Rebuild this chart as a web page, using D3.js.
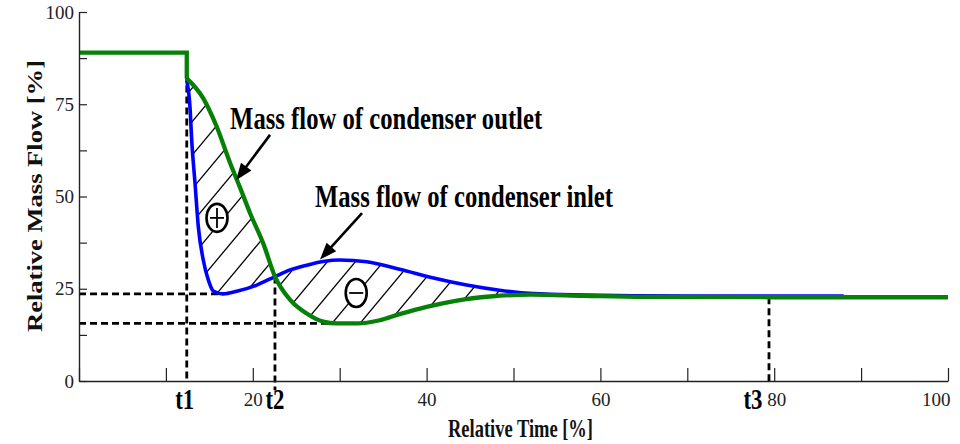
<!DOCTYPE html>
<html>
<head>
<meta charset="utf-8">
<script src="https://cdn.jsdelivr.net/npm/d3@7"></script>
<style>
  html, body { margin: 0; padding: 0; background: #ffffff; }
  svg { display: block; }
</style>
</head>
<body>
<script>
// ---------------- DATA ----------------
// Green: mass flow of condenser outlet (step part + smooth part)
const greenStepT = [0, 12.4, 12.4];
const greenStepV = [89, 89, 82];
const greenT = [12.4, 14.3, 15.85, 17.4, 18.5, 19.7, 21.2, 22.55, 24.3, 26.2, 28.1, 29.65, 32, 34.5, 37, 40, 43.5, 47.3, 52, 58, 65, 80, 100];
const greenV = [82, 76.6, 68.9, 59, 52.6, 45.4, 37.3, 28.3, 22, 18.3, 16.1, 15.6, 15.6, 16.4, 18.2, 20.1, 21.8, 22.9, 23.4, 23.1, 22.8, 22.7, 22.7];
// Blue: mass flow of condenser inlet
const blueT = [12.4, 12.77, 12.97, 13.35, 13.73, 14.3, 14.88, 15.45, 16.6, 18.15, 20.45, 22.55, 24.3, 26.2, 28.1, 30, 33.1, 36.9, 40.8, 44.6, 48.4, 52.3, 58, 70, 88];
const blueV = [81.5, 74.3, 65.3, 53.6, 41.8, 32.8, 27.4, 24.4, 23.6, 24.3, 26, 28.3, 30.1, 31.4, 32.4, 32.8, 32.3, 30.3, 27.9, 26, 24.6, 23.7, 23.3, 23.0, 23.0];

// marker times / levels
const markerNames = ["t1", "t2", "t3"];
const markerT = [12.4, 22.55, 79.4];
const markerTopV = [89, 28.3, 22.7];
const levelV = [23.6, 15.6];      // blue minimum, green minimum
const levelEndT = [16.6, 30];

// axis ticks
const xTicks = [0, 10, 20, 30, 40, 50, 60, 70, 80, 90, 100];
const xTickLabels = [20, 40, 60, 80, 100];
const yTicks = [0, 12.5, 25, 37.5, 50, 62.5, 75, 87.5, 100];
const yTickLabels = [0, 25, 50, 75, 100];

const labelOutlet = "Mass flow of condenser outlet";
const labelInlet = "Mass flow of condenser inlet";
const xTitle = "Relative Time [%]";
const yTitle = "Relative Mass Flow [%]";

// ---------------- CHART ----------------
const W = 960, H = 444;
const x = d3.scaleLinear().domain([0, 100]).range([79, 948]);
const y = d3.scaleLinear().domain([0, 100]).range([381, 12]);

const serif = "'Liberation Serif', 'Times New Roman', serif";
const GREEN = "#078007";
const BLUE = "#0000ff";

const svg = d3.select("body").append("svg")
  .attr("width", W).attr("height", H)
  .attr("viewBox", `0 0 ${W} ${H}`);

const defs = svg.append("defs");

const pts = (T, V) => T.map((t, i) => [t, V[i]]);
const greenPts = pts(greenT, greenV);
const bluePts = pts(blueT, blueV);
const greenStepPts = pts(greenStepT, greenStepV);

const lineGen = d3.line().x(d => x(d[0])).y(d => y(d[1])).curve(d3.curveMonotoneX);
const linearGen = d3.line().x(d => x(d[0])).y(d => y(d[1]));
const areaGen = d3.area().x(d => x(d[0])).y0(y(0)).y1(d => y(d[1])).curve(d3.curveMonotoneX);

// ---- hatched region between the curves (XOR of the two areas) ----
const hatchEnd = 58;
const clipD = areaGen(bluePts.filter(d => d[0] <= hatchEnd)) + areaGen(greenPts.filter(d => d[0] <= hatchEnd));
defs.append("clipPath").attr("id", "betweenClip")
  .append("path").attr("d", clipD).attr("clip-rule", "evenodd");

const hatchG = svg.append("g").attr("clip-path", "url(#betweenClip)");
const slope = 1.2, spacing = 28, phase = 312;
const hatchStarts = d3.range(-16, 9).map(k => phase + k * spacing);
hatchG.selectAll("line").data(hatchStarts).join("line")
  .attr("x1", d => d).attr("y1", y(0))
  .attr("x2", d => d + (y(0) - y(100)) / slope).attr("y2", y(100))
  .attr("stroke", "#000").attr("stroke-width", 1.3);

// ---- dashed guide lines ----
const dash = "7,4";
const guides = svg.append("g").attr("stroke", "#000").attr("stroke-width", 2.8)
  .attr("stroke-dasharray", dash).attr("fill", "none");
levelV.forEach((v, i) => {
  guides.append("line").attr("x1", x(0)).attr("x2", x(levelEndT[i]))
    .attr("y1", y(v)).attr("y2", y(v));
});
const markerBottomV = [0, -2.5, -1];
markerT.forEach((t, i) => {
  guides.append("line").attr("x1", x(t)).attr("x2", x(t))
    .attr("y1", y(markerTopV[i])).attr("y2", y(markerBottomV[i]));
});

// ---- curves ----
svg.append("path").attr("d", lineGen(bluePts))
  .attr("fill", "none").attr("stroke", BLUE).attr("stroke-width", 3.6);
svg.append("path").attr("d", linearGen(greenStepPts))
  .attr("fill", "none").attr("stroke", GREEN).attr("stroke-width", 4.3);
svg.append("path").attr("d", lineGen(greenPts))
  .attr("fill", "none").attr("stroke", GREEN).attr("stroke-width", 4.3);

// ---- plus / minus symbols ----
const signs = [
  { t: 15.88, v: 44.2, plus: true },
  { t: 31.9, v: 23.85, plus: false }
];
signs.forEach(s => {
  const cx = x(s.t), cy = y(s.v);
  svg.append("ellipse").attr("cx", cx).attr("cy", cy).attr("rx", 10.5).attr("ry", 14)
    .attr("fill", "#fff").attr("stroke", "#000").attr("stroke-width", 2.6);
  svg.append("line").attr("x1", cx - 7).attr("x2", cx + 7).attr("y1", cy).attr("y2", cy)
    .attr("stroke", "#000").attr("stroke-width", 1.8);
  if (s.plus) {
    svg.append("line").attr("x1", cx).attr("x2", cx).attr("y1", cy - 10).attr("y2", cy + 10)
      .attr("stroke", "#000").attr("stroke-width", 1.8);
  }
});

// ---- arrows ----
const arrows = [
  { t0: 21.98, v0: 66.7, t1: 18.07, v1: 54.4 },
  { t0: 32.57, v0: 45.5, t1: 27.73, v1: 32.9 }
];
arrows.forEach(a => {
  const x0 = x(a.t0), y0 = y(a.v0), x1 = x(a.t1), y1 = y(a.v1);
  const len = Math.hypot(x1 - x0, y1 - y0);
  const ux = (x1 - x0) / len, uy = (y1 - y0) / len;
  const hl = 17, hw = 6.5;
  const bx = x1 - ux * hl, by = y1 - uy * hl;
  svg.append("line").attr("x1", x0).attr("y1", y0).attr("x2", bx + ux * 2).attr("y2", by + uy * 2)
    .attr("stroke", "#000").attr("stroke-width", 2.6);
  svg.append("path")
    .attr("d", `M${x1},${y1}L${bx - uy * hw},${by + ux * hw}L${bx + uy * hw},${by - ux * hw}Z`)
    .attr("fill", "#000");
});

// ---- annotation texts ----
svg.append("text").attr("x", x(17.39)).attr("y", y(68.3))
  .attr("font-family", serif).attr("font-weight", "bold").attr("font-size", 32)
  .attr("textLength", 312).attr("lengthAdjust", "spacingAndGlyphs")
  .attr("fill", "#000").text(labelOutlet);
svg.append("text").attr("x", x(27.16)).attr("y", y(47.15))
  .attr("font-family", serif).attr("font-weight", "bold").attr("font-size", 31)
  .attr("textLength", 298).attr("lengthAdjust", "spacingAndGlyphs")
  .attr("fill", "#000").text(labelInlet);

// ---- axes ----
const yAxis = d3.axisLeft(y).tickValues(yTicks).tickSize(-8).tickSizeOuter(0).tickPadding(5)
  .tickFormat(d => yTickLabels.includes(d) ? d : "");
const yg = svg.append("g").attr("transform", `translate(${x(0)},0)`).call(yAxis);
yg.selectAll("text").attr("font-family", serif).attr("font-size", 19).attr("fill", "#222");

const xAxis = d3.axisBottom(x).tickValues(xTicks).tickSize(-13).tickSizeOuter(0).tickPadding(12)
  .tickFormat(d => xTickLabels.includes(d) ? d : "");
const xg = svg.append("g").attr("transform", `translate(0,${y(0)})`).call(xAxis);
xg.selectAll("text").attr("font-family", serif).attr("font-size", 19).attr("fill", "#222");
xg.selectAll(".tick").filter(d => d === 100).select("text").attr("text-anchor", "end").attr("dx", 2);
xg.selectAll(".tick").filter(d => d === 80).select("text").attr("dx", 2);

[yg, xg].forEach(g => {
  g.select(".domain").attr("stroke", "#222").attr("stroke-width", 1.4);
  g.selectAll(".tick line").attr("stroke", "#222").attr("stroke-width", 1.2);
});

// ---- marker labels t1, t2, t3 ----
const markerLabelShift = [-2, 0, -16];
markerNames.forEach((n, i) => {
  svg.append("text").attr("x", x(markerT[i]) + markerLabelShift[i]).attr("y", 409)
    .attr("text-anchor", "middle")
    .attr("font-family", serif).attr("font-weight", "bold").attr("font-size", 30)
    .attr("textLength", 19).attr("lengthAdjust", "spacingAndGlyphs")
    .attr("fill", "#000").text(n);
});

// ---- axis titles ----
svg.append("text").attr("x", 520.5).attr("y", 437).attr("text-anchor", "middle")
  .attr("font-family", serif).attr("font-weight", "bold").attr("font-size", 25)
  .attr("textLength", 145).attr("lengthAdjust", "spacingAndGlyphs")
  .attr("fill", "#111").text(xTitle);

svg.append("text").attr("transform", "translate(42,196) rotate(-90)")
  .attr("text-anchor", "middle")
  .attr("font-family", serif).attr("font-weight", "bold").attr("font-size", 21)
  .attr("textLength", 272).attr("lengthAdjust", "spacingAndGlyphs")
  .attr("fill", "#111").text(yTitle);
</script>
</body>
</html>
